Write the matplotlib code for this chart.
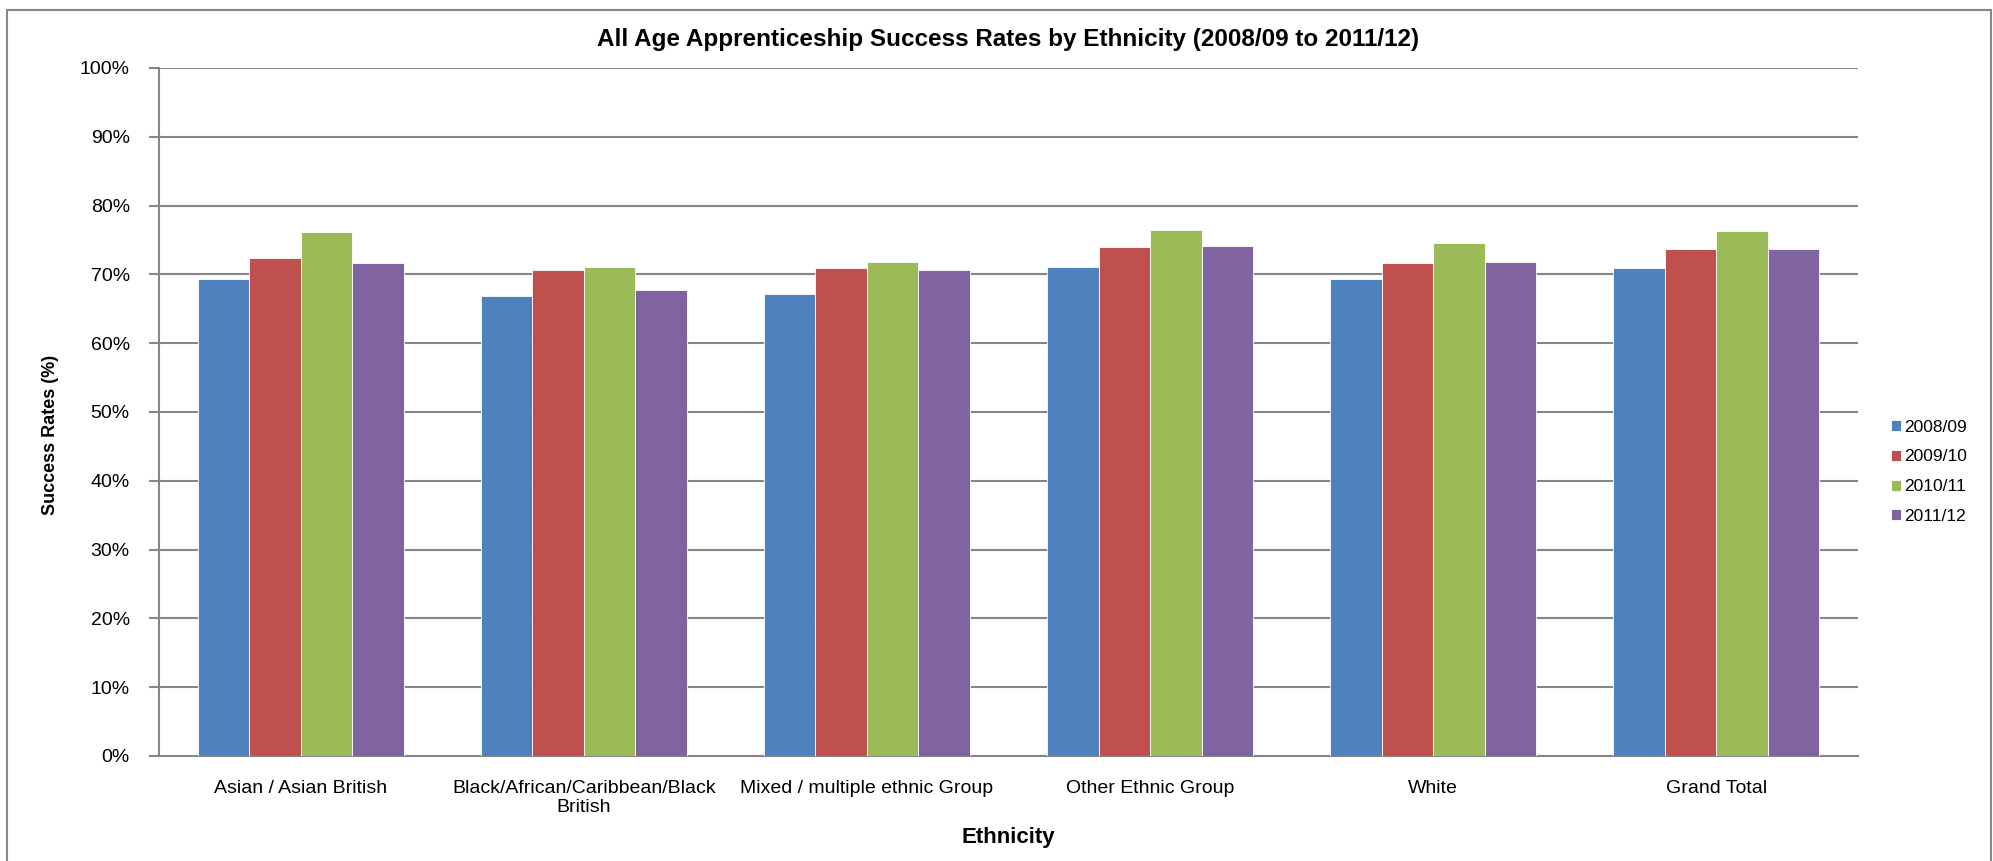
import matplotlib
matplotlib.use('Agg')
import matplotlib.pyplot as plt
import numpy as np
from matplotlib.patches import Rectangle
from matplotlib.ticker import FuncFormatter

plt.rcParams['font.family'] = ['Liberation Sans', 'DejaVu Sans']

# data
categories = ['Asian / Asian British', 'Black/African/Caribbean/Black\nBritish',
              'Mixed / multiple ethnic Group', 'Other Ethnic Group', 'White', 'Grand Total']
years = ['2008/09', '2009/10', '2010/11', '2011/12']
rate_0809 = [69.3, 66.8, 67.2, 71.1, 69.3, 70.9]
rate_0910 = [72.4, 70.7, 70.9, 74.0, 71.6, 73.7]
rate_1011 = [76.1, 71.1, 71.8, 76.5, 74.5, 76.3]
rate_1112 = [71.6, 67.8, 70.7, 74.2, 71.8, 73.7]
colors = ['#4F81BD', '#C0504D', '#9BBB59', '#8064A2']

series = [rate_0809, rate_0910, rate_1011, rate_1112]

fig = plt.figure(figsize=(19.93, 8.61), dpi=100)
ax = fig.add_axes([159 / 1993, 1 - 756 / 861, 1699 / 1993, 688 / 861])

x = np.arange(len(categories))
w = 0.182
for i, (vals, c) in enumerate(zip(series, colors)):
    ax.bar(x + (i - 1.5) * w, vals, width=w, color=c, label=years[i],
           edgecolor='white', linewidth=0.6, zorder=3)

ax.set_xlim(-0.5, len(categories) - 0.5)
ax.set_ylim(0, 100)
ax.set_yticks(range(0, 101, 10))
ax.yaxis.set_major_formatter(FuncFormatter(lambda v, p: f'{int(v)}%'))
ax.grid(axis='y', color='#868686', linewidth=1.5, zorder=0)
ax.set_xticks(x)
ax.set_xticklabels(categories, fontsize=14)
ax.tick_params(axis='x', length=0, pad=17)
ax.tick_params(axis='y', labelsize=14, length=7, color='#868686', width=1.5, pad=14)
for s in ['top', 'right']:
    ax.spines[s].set_visible(False)
for s in ['left', 'bottom']:
    ax.spines[s].set_color('#868686')
    ax.spines[s].set_linewidth(1.5)

ax.set_title('All Age Apprenticeship Success Rates by Ethnicity (2008/09 to 2011/12)',
             fontsize=17.5, fontweight='bold', pad=16)
ax.set_xlabel('Ethnicity', fontsize=16, fontweight='bold', labelpad=8)
fig.text(51 / 1993, 1 - 435 / 861, 'Success Rates (%)', rotation=90, fontsize=13,
         fontweight='bold', ha='center', va='center')

leg = ax.legend(loc='center left', bbox_to_anchor=(1.01, 0.413), frameon=False,
                fontsize=12.5, handlelength=0.6, handleheight=0.6, handletextpad=0.2,
                labelspacing=0.85)

fig.patches.append(Rectangle((7 / 1993, -0.01), 1984 / 1993, 1.01 - 10 / 861,
                             transform=fig.transFigure, fill=False,
                             edgecolor='#868686', linewidth=1.5))

fig.savefig('out.png', dpi=100)
